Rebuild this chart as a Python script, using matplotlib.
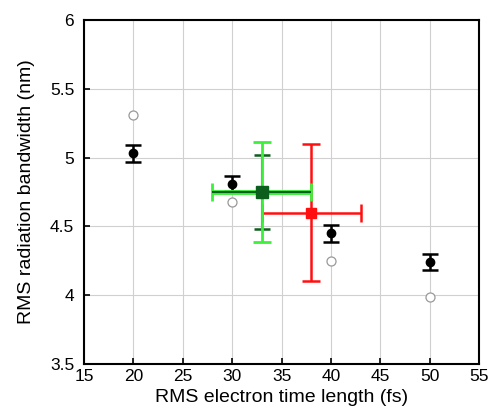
import matplotlib
matplotlib.use("Agg")
import matplotlib.pyplot as plt

plt.rcParams['font.family'] = ['Liberation Sans', 'DejaVu Sans']

# simulation points (black with y errors)
sim_x = [20, 30, 40, 50]
sim_y = [5.03, 4.81, 4.45, 4.24]
sim_err = [0.06, 0.055, 0.06, 0.06]

# model points (open grey circles)
mod_x = [20, 30, 40, 50]
mod_y = [5.31, 4.68, 4.25, 3.99]

# green measurement
g_x, g_y = 33.0, 4.75
g_xerr_light, g_yerr_light = 5.0, 0.365
g_xerr_dark, g_yerr_dark = 5.0, 0.27

# red measurement
r_x, r_y = 38.0, 4.6
r_xerr, r_yerr = 5.0, 0.5

LIGHT = '#3cf03c'
DARK = '#0b5e1b'
RED = '#ff1010'

fig = plt.figure(figsize=(4.91, 4.16), dpi=100)
ax = fig.add_axes([0.171, 0.125, 0.805, 0.827])

ax.grid(True, color='#d0d0d0', lw=0.8, zorder=0)
ax.set_axisbelow(True)

# open circles
ax.plot(mod_x, mod_y, 'o', mfc='white', mec='#999999', ms=6.5, mew=0.9, zorder=3)

# black points
ax.errorbar(sim_x, sim_y, yerr=sim_err, fmt='o', color='black', ms=6,
            elinewidth=1.8, capsize=6, capthick=1.8, zorder=4)

# red
ax.errorbar([r_x], [r_y], xerr=[r_xerr], yerr=[r_yerr], fmt='s', color=RED,
            ms=7, elinewidth=1.8, capsize=6.5, capthick=1.8, zorder=5)

# green: light horizontal band
ax.errorbar([g_x], [g_y], xerr=[g_xerr_light], fmt='none', ecolor=LIGHT,
            elinewidth=3.5, capsize=6.5, capthick=2, zorder=6)
# dark green horizontal (no caps) and vertical (caps)
ax.errorbar([g_x], [g_y], xerr=[g_xerr_dark], fmt='none',
            ecolor=DARK, elinewidth=1.5, capsize=0, zorder=7)
ax.errorbar([g_x], [g_y], yerr=[g_yerr_dark], fmt='none',
            ecolor=DARK, elinewidth=1.5, capsize=6, capthick=1.8, zorder=7)
# light green vertical
ax.errorbar([g_x], [g_y], yerr=[g_yerr_light], fmt='none', ecolor=LIGHT,
            elinewidth=2, capsize=6.5, capthick=2, zorder=8)
ax.plot([g_x], [g_y], 's', color=DARK, ms=8, zorder=9)

ax.set_xlim(15, 55)
ax.set_ylim(3.5, 6)
ax.set_xticks(range(15, 56, 5))
ax.set_yticks([3.5, 4, 4.5, 5, 5.5, 6])
ax.set_yticklabels(['3.5', '4', '4.5', '5', '5.5', '6'])
ax.tick_params(direction='in', length=4, width=1.2, labelsize=12.5, colors='black')
ax.tick_params(axis='x', pad=3.5)
ax.tick_params(axis='y', pad=7)
for s in ax.spines.values():
    s.set_linewidth(1.5)
    s.set_color('black')

ax.set_xlabel('RMS electron time length (fs)', fontsize=14, labelpad=4)
ax.set_ylabel('RMS radiation bandwidth (nm)', fontsize=14, labelpad=11)

fig.savefig('out.png', dpi=100)
